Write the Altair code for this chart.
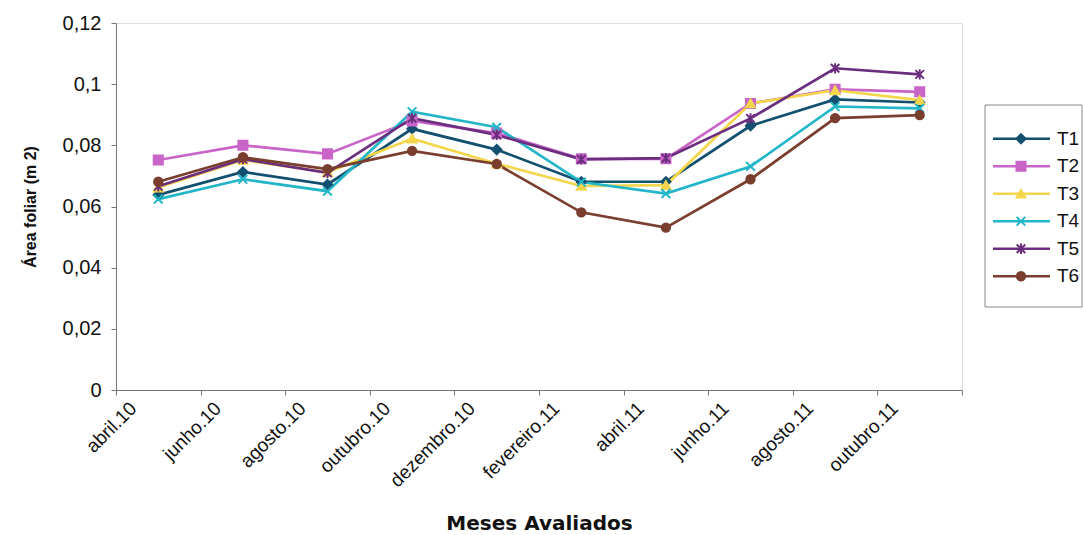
import altair as alt
import pandas as pd

# Category labels shown on the x axis (one per evaluation period)
months = ["abril.10", "junho.10", "agosto.10", "outubro.10", "dezembro.10",
          "fevereiro.11", "abril.11", "junho.11", "agosto.11", "outubro.11"]

# Leaf area (m2) per treatment, one value per period
t1 = [0.0638, 0.0713, 0.0672, 0.0854, 0.0786, 0.0681, 0.0681, 0.0864, 0.0950, 0.0940]
t2 = [0.0752, 0.0800, 0.0772, 0.0880, 0.0840, 0.0756, 0.0756, 0.0937, 0.0983, 0.0975]
t3 = [0.0662, 0.0752, 0.0712, 0.0822, 0.0740, 0.0667, 0.0670, 0.0937, 0.0980, 0.0948]
t4 = [0.0624, 0.0689, 0.0650, 0.0910, 0.0859, 0.0680, 0.0642, 0.0731, 0.0927, 0.0921]
t5 = [0.0666, 0.0755, 0.0710, 0.0889, 0.0834, 0.0754, 0.0758, 0.0888, 0.1052, 0.1032]
t6 = [0.0681, 0.0761, 0.0722, 0.0782, 0.0739, 0.0581, 0.0531, 0.0689, 0.0889, 0.0899]

series = ["T1", "T2", "T3", "T4", "T5", "T6"]
values = [t1, t2, t3, t4, t5, t6]
colors = ["#13506f", "#c964c9", "#f3d64c", "#22b6c8", "#6b2d7e", "#7a3e2e"]
shapes = ["diamond", "square", "triangle-up",
          "M-1,-1L1,1M-1,1L1,-1",
          "M-1,-1L1,1M-1,1L1,-1M0,-1.2L0,1.2",
          "circle"]
sizes = [85, 70, 80, 120, 120, 80]

rows = []
for name, vals in zip(series, values):
    for i, v in enumerate(vals):
        rows.append({"serie": name, "idx": i, "valor": v})
df = pd.DataFrame(rows)

FONT = "Liberation Sans"
color_scale = alt.Scale(domain=series, range=colors)
shape_scale = alt.Scale(domain=series, range=shapes)
size_scale = alt.Scale(domain=series, range=sizes)
x_scale = alt.Scale(domain=[-0.5, 9.5], nice=False, zero=False)
y_scale = alt.Scale(domain=[0, 0.12], nice=False)

label_expr = "[" + ",".join("'" + m + "'" for m in months) + ",''][round(datum.value + 0.5)]"

x_enc = alt.X(
    "idx:Q", scale=x_scale,
    axis=alt.Axis(
        values=[i - 0.5 for i in range(11)],
        labelExpr=label_expr, labelOverlap=False,
        labelAngle=-45, labelAlign="right", labelBaseline="middle",
        labelOffset=17, labelPadding=10,
        labelFont=FONT, labelFontSize=19, labelColor="#111",
        tickSize=5, tickColor="#777", domainColor="#777", grid=False,
        title="Meses Avaliados", titleFont="DejaVu Sans", titleFontSize=20,
        titleFontWeight="bold", titleColor="#111", titleY=123,
        titleBaseline="top",
    ),
)
y_enc = alt.Y(
    "valor:Q", scale=y_scale,
    axis=alt.Axis(
        values=[0, 0.02, 0.04, 0.06, 0.08, 0.1, 0.12],
        labelExpr="replace(format(datum.value, '~g'), '.', ',')",
        labelFont=FONT, labelFontSize=20, labelColor="#111", labelPadding=10,
        tickSize=5, tickColor="#777", domainColor="#777", grid=False,
        title="Área foliar (m 2)", titleFont=FONT, titleFontSize=16,
        titleFontWeight="bold", titleColor="#111", titleX=-86, titleY=183.5,
        titleAlign="center", titleBaseline="middle",
    ),
)

lines = alt.Chart(df).mark_line(strokeWidth=2.7).encode(
    x=x_enc,
    y=y_enc,
    color=alt.Color("serie:N", scale=color_scale, legend=None),
    detail="serie:N",
)

points = alt.Chart(df).mark_point(filled=True, strokeWidth=2, opacity=1).encode(
    x=alt.X("idx:Q", scale=x_scale),
    y=alt.Y("valor:Q", scale=y_scale, axis=None),
    fill=alt.Fill("serie:N", scale=color_scale, legend=None),
    stroke=alt.Stroke("serie:N", scale=color_scale, legend=None),
    shape=alt.Shape("serie:N", scale=shape_scale, legend=None),
    size=alt.Size("serie:N", scale=size_scale, legend=None),
)

# Legend drawn beside the plot: one row per treatment
leg_df = pd.DataFrame({"serie": series})
leg_y = alt.Y("serie:N", scale=alt.Scale(domain=series, range=[102, 267]), axis=None)

box = alt.Chart(pd.DataFrame({"k": [0]})).mark_rect(
    fill="white", stroke="#888", strokeWidth=1
).encode(x=alt.value(869), x2=alt.value(966), y=alt.value(82), y2=alt.value(284))

leg_lines = alt.Chart(leg_df).mark_rule(strokeWidth=2.7).encode(
    x=alt.value(877), x2=alt.value(934), y=leg_y,
    color=alt.Color("serie:N", scale=color_scale, legend=None),
)
leg_points = alt.Chart(leg_df).mark_point(filled=True, strokeWidth=2, opacity=1).encode(
    x=alt.value(905), y=leg_y,
    fill=alt.Fill("serie:N", scale=color_scale, legend=None),
    stroke=alt.Stroke("serie:N", scale=color_scale, legend=None),
    shape=alt.Shape("serie:N", scale=shape_scale, legend=None),
    size=alt.Size("serie:N", scale=size_scale, legend=None),
)
leg_text = alt.Chart(leg_df).mark_text(
    align="left", baseline="middle", font=FONT, fontSize=19, color="#111"
).encode(x=alt.value(941), y=leg_y, text="serie:N")

chart = alt.layer(
    lines, points, box, leg_lines, leg_points, leg_text
).resolve_scale(y="independent").resolve_axis(y="independent").properties(
    width=846, height=367,
    autosize=alt.AutoSizeParams(type="none"),
    padding={"left": 116, "top": 23, "right": 121, "bottom": 145},
).configure_view(strokeWidth=0).configure(background="white")

chart.save("out.html", embed_options={"renderer": "svg", "actions": False})
